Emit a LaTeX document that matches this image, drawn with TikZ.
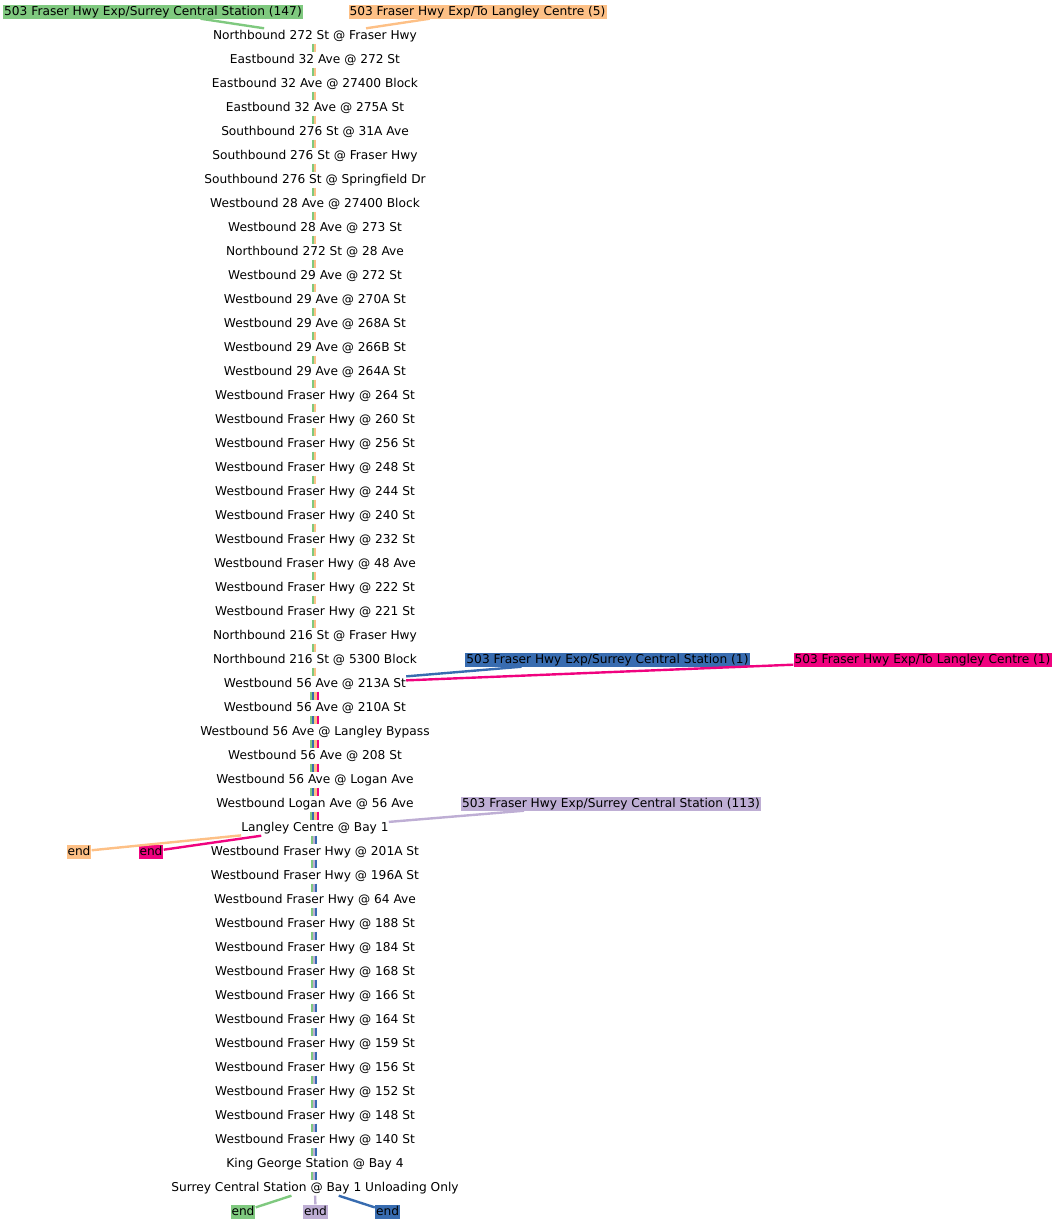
\documentclass[tikz,border=0pt]{standalone}
\usepackage{fontspec}
\setmainfont{DejaVu Sans}
\definecolor{rtgreen}{HTML}{7FC97F}
\definecolor{rtorange}{HTML}{FDC086}
\definecolor{rtblue}{HTML}{386CB0}
\definecolor{rtpink}{HTML}{F0027F}
\definecolor{rtpurple}{HTML}{BEAED4}

\begin{document}
\begin{tikzpicture}[
		x=1pt, y=-1pt,
		font=\fontsize{12.2}{14}\selectfont,
		stopnode/.style={inner xsep=0pt, inner ysep=0pt, text height=11pt, text depth=4pt},
		tag/.style={fill=#1, inner xsep=1pt, inner ysep=1pt, text height=9.5pt, text depth=2.5pt},
		bar/.style={draw=#1, line width=2.2pt},
		link/.style={draw=#1, line width=2.4pt},
	]
		\useasboundingbox (0,0) rectangle (1056,1224);

		% stops, top to bottom
		\foreach \name [count=\i] in {
			Northbound 272 St @ Fraser Hwy, Eastbound 32 Ave @ 272 St,
			Eastbound 32 Ave @ 27400 Block, Eastbound 32 Ave @ 275A St,
			Southbound 276 St @ 31A Ave, Southbound 276 St @ Fraser Hwy,
			Southbound 276 St @ Springfield Dr, Westbound 28 Ave @ 27400 Block,
			Westbound 28 Ave @ 273 St, Northbound 272 St @ 28 Ave,
			Westbound 29 Ave @ 272 St, Westbound 29 Ave @ 270A St,
			Westbound 29 Ave @ 268A St, Westbound 29 Ave @ 266B St,
			Westbound 29 Ave @ 264A St, Westbound Fraser Hwy @ 264 St,
			Westbound Fraser Hwy @ 260 St, Westbound Fraser Hwy @ 256 St,
			Westbound Fraser Hwy @ 248 St, Westbound Fraser Hwy @ 244 St,
			Westbound Fraser Hwy @ 240 St, Westbound Fraser Hwy @ 232 St,
			Westbound Fraser Hwy @ 48 Ave, Westbound Fraser Hwy @ 222 St,
			Westbound Fraser Hwy @ 221 St, Northbound 216 St @ Fraser Hwy,
			Northbound 216 St @ 5300 Block, Westbound 56 Ave @ 213A St,
			Westbound 56 Ave @ 210A St, Westbound 56 Ave @ Langley Bypass,
			Westbound 56 Ave @ 208 St, Westbound 56 Ave @ Logan Ave,
			Westbound Logan Ave @ 56 Ave, Langley Centre @ Bay 1,
			Westbound Fraser Hwy @ 201A St, Westbound Fraser Hwy @ 196A St,
			Westbound Fraser Hwy @ 64 Ave, Westbound Fraser Hwy @ 188 St,
			Westbound Fraser Hwy @ 184 St, Westbound Fraser Hwy @ 168 St,
			Westbound Fraser Hwy @ 166 St, Westbound Fraser Hwy @ 164 St,
			Westbound Fraser Hwy @ 159 St, Westbound Fraser Hwy @ 156 St,
			Westbound Fraser Hwy @ 152 St, Westbound Fraser Hwy @ 148 St,
			Westbound Fraser Hwy @ 140 St, King George Station @ Bay 4,
			Surrey Central Station @ Bay 1 Unloading Only}
			\node (s\i) [stopnode] at (315,{12+24*\i}) {\name};

		% trip labels and ends
		\node (gtag) [tag=rtgreen] at (153,11.5) {503 Fraser Hwy Exp/Surrey Central Station (147)};
		\node (otag) [tag=rtorange] at (477.5,11.5) {503 Fraser Hwy Exp/To Langley Centre (5)};
		\node (btag) [tag=rtblue] at (607.5,659.5) {503 Fraser Hwy Exp/Surrey Central Station (1)};
		\node (mtag) [tag=rtpink] at (922.5,659.5) {503 Fraser Hwy Exp/To Langley Centre (1)};
		\node (ptag) [tag=rtpurple] at (611,803.5) {503 Fraser Hwy Exp/Surrey Central Station (113)};
		\node (oend) [tag=rtorange] at (79,851.5) {end};
		\node (mend) [tag=rtpink] at (151,851.5) {end};
		\node (gend) [tag=rtgreen] at (243,1211.5) {end};
		\node (pend) [tag=rtpurple] at (315.5,1211.5) {end};
		\node (bend) [tag=rtblue] at (387.5,1211.5) {end};

		% bundles between stops
		\foreach \i in {1,...,27} {
			\pgfmathtruncatemacro\j{\i+1}
			\draw[bar=rtgreen] ([xshift=-2pt]s\i.south) -- ([xshift=-2pt]s\j.north);
			\draw[bar=rtorange] ([xshift=0pt]s\i.south) -- ([xshift=0pt]s\j.north);
		}
		\foreach \i in {28,...,33} {
			\pgfmathtruncatemacro\j{\i+1}
			\draw[bar=rtgreen] ([xshift=-3.7pt]s\i.south) -- ([xshift=-3.7pt]s\j.north);
			\draw[bar=rtblue] ([xshift=-1.6pt]s\i.south) -- ([xshift=-1.6pt]s\j.north);
			\draw[bar=rtorange] ([xshift=0.5pt]s\i.south) -- ([xshift=0.5pt]s\j.north);
			\draw[bar=rtpink] ([xshift=2.6pt]s\i.south) -- ([xshift=2.6pt]s\j.north);
		}
		\foreach \i in {34,...,48} {
			\pgfmathtruncatemacro\j{\i+1}
			\draw[bar=rtgreen] ([xshift=-3pt]s\i.south) -- ([xshift=-3pt]s\j.north);
			\draw[bar=rtpurple] ([xshift=-1pt]s\i.south) -- ([xshift=-1pt]s\j.north);
			\draw[bar=rtblue] ([xshift=1pt]s\i.south) -- ([xshift=1pt]s\j.north);
		}

		% where trips start and end
		\draw[link=rtgreen] (gtag) -- (s1);
		\draw[link=rtorange] (otag) -- (s1);
		\draw[link=rtblue] (btag) -- (s28);
		\draw[link=rtpink] (mtag) -- (s28);
		\draw[link=rtpurple] (ptag) -- (s34);
		\draw[link=rtorange] (s34) -- (oend);
		\draw[link=rtpink] (s34) -- (mend);
		\draw[link=rtgreen] (s49) -- (gend);
		\draw[link=rtpurple] (s49) -- (pend);
		\draw[link=rtblue] (s49) -- (bend);
	\end{tikzpicture}
\end{document}
